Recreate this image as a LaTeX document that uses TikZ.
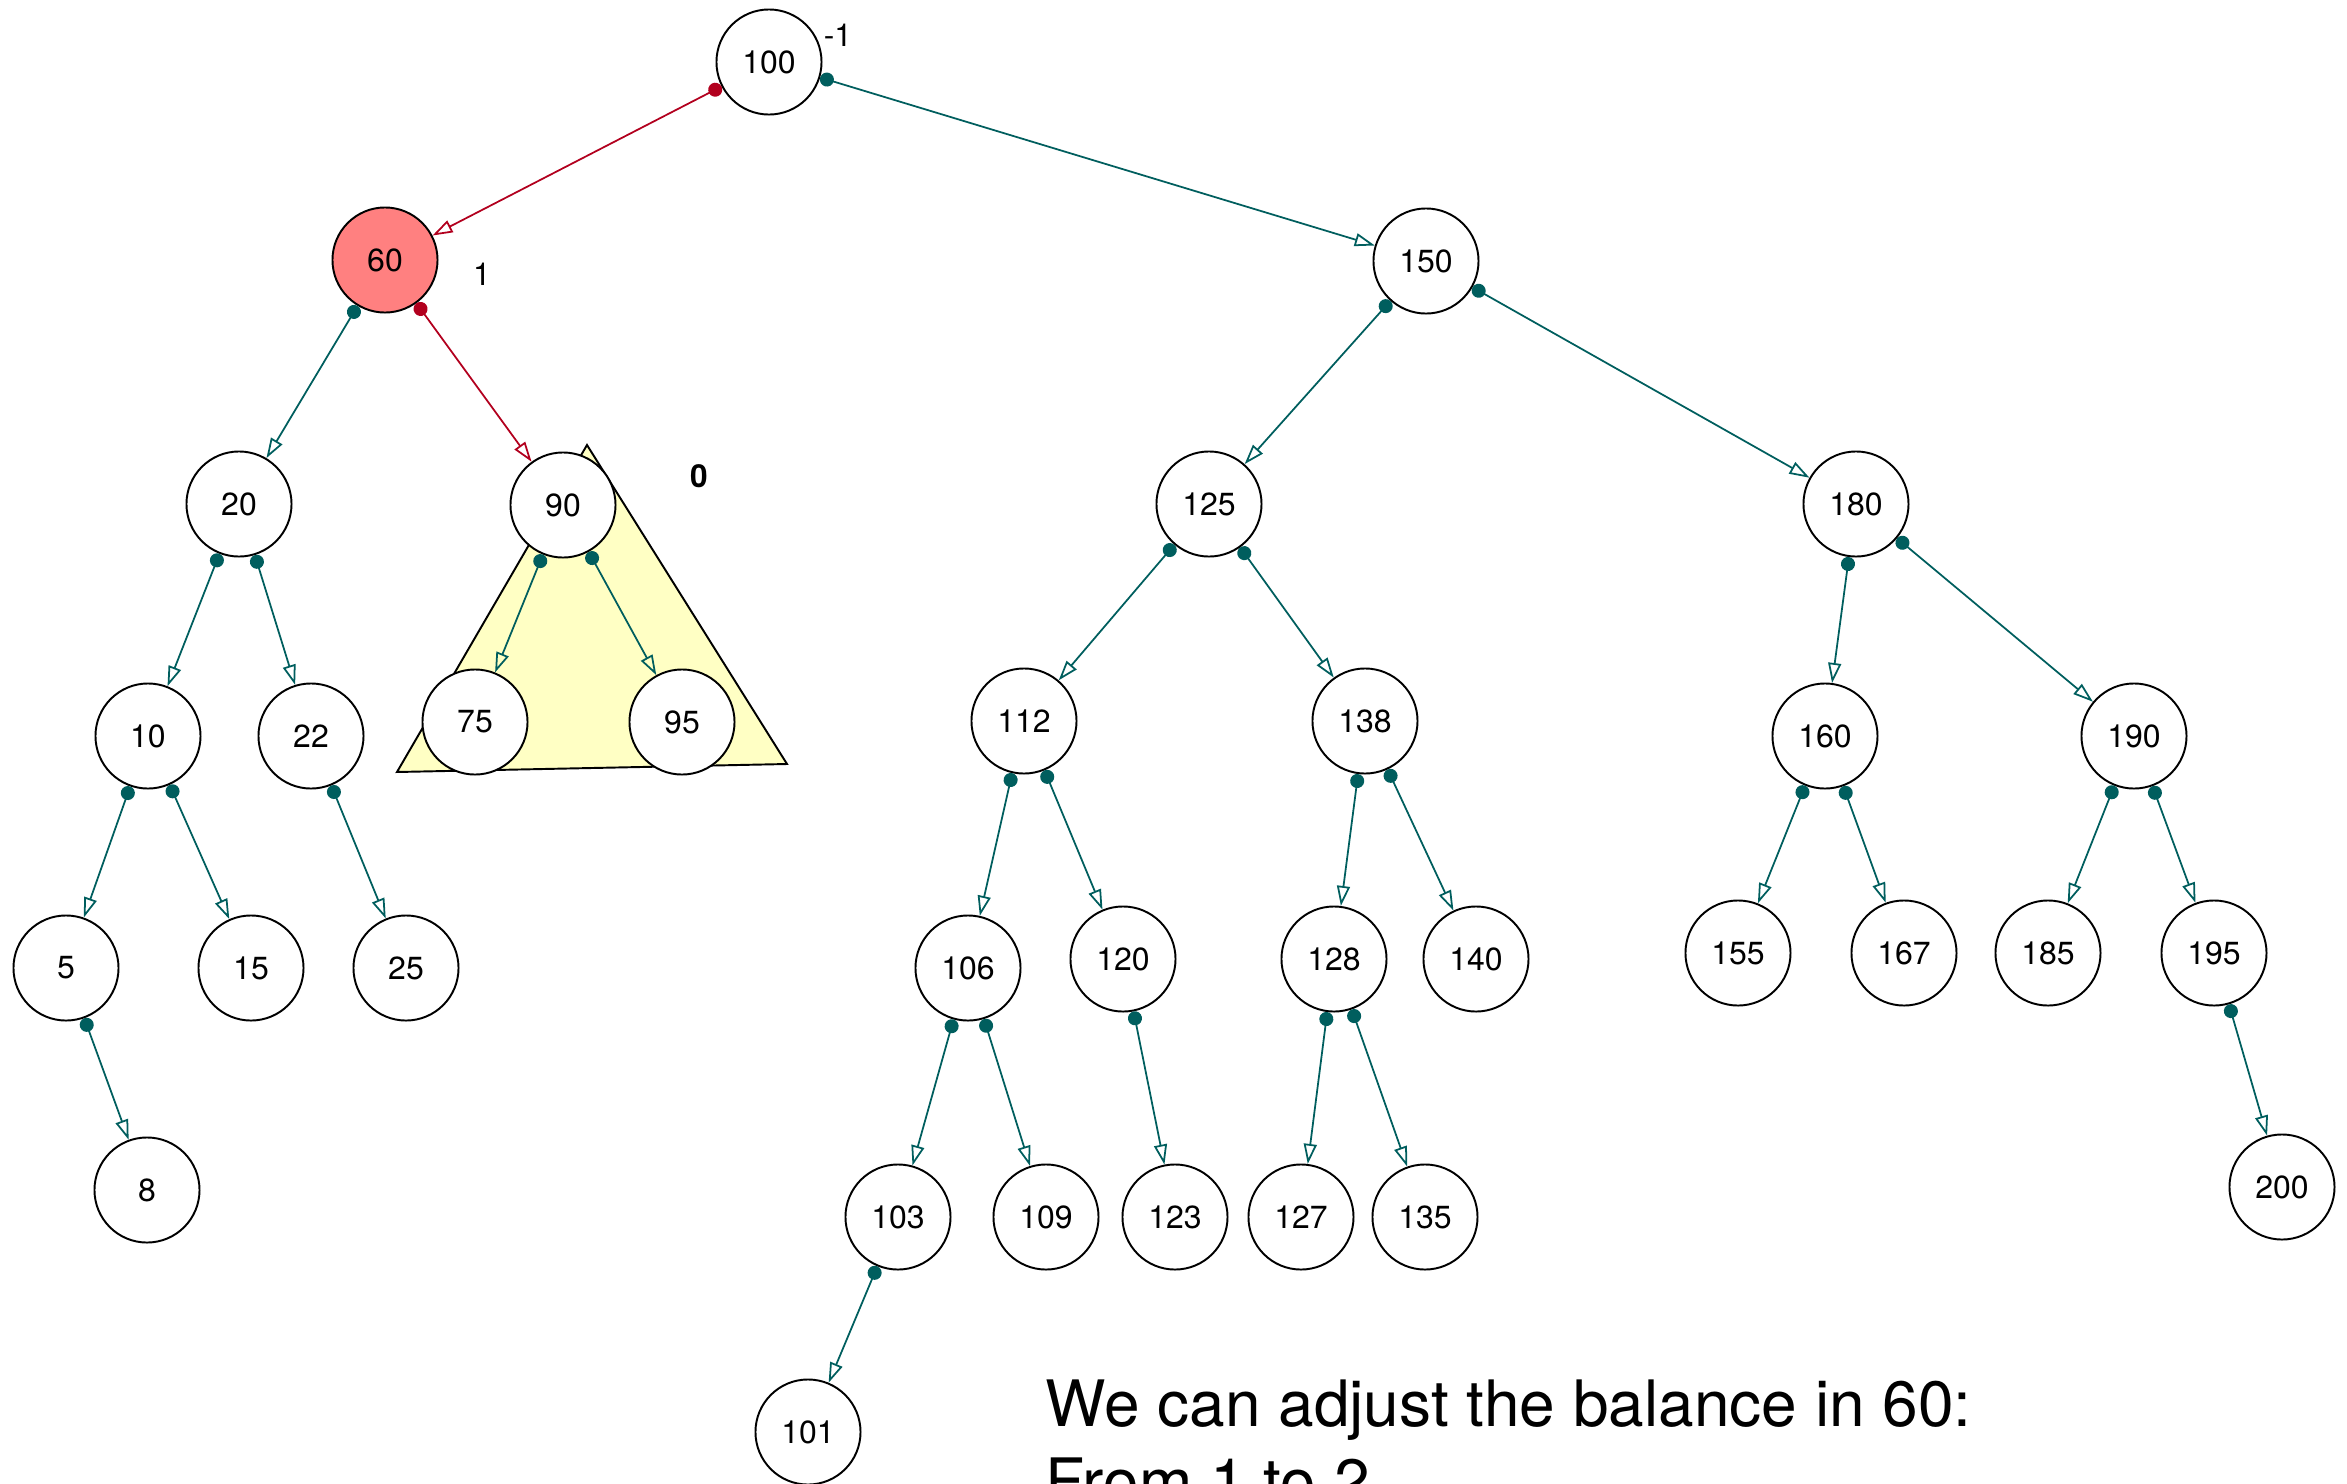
\documentclass[tikz,border=0pt]{standalone}
\usepackage{fontspec}
\setmainfont{TeX Gyre Heros}
\usetikzlibrary{arrows.meta}
\definecolor{linkteal}{RGB}{0,94,94}
\definecolor{linkred}{RGB}{178,0,30}
\definecolor{hotpink}{RGB}{255,128,128}
\definecolor{paleyellow}{RGB}{255,255,196}
\tikzset{
  x=0.01cm, y=-0.01cm,
  key/.style={circle, draw=black, line width=0.55pt, fill=white,
    minimum size=1.05cm, inner sep=0pt,
    font=\fontsize{9.1pt}{11pt}\selectfont},
  hot/.style={key, fill=hotpink},
  link/.style={draw=linkteal, line width=0.5pt,
    {Circle[length=1.4mm, color=linkteal]}-{Triangle[open, length=2mm, width=1.3mm]}},
  redlink/.style={link, draw=linkred,
    {Circle[length=1.4mm, color=linkred]}-{Triangle[open, length=2mm, width=1.3mm]}},
  balance/.style={font=\fontsize{9pt}{11pt}\selectfont},
  note/.style={font=\fontsize{18.2pt}{22pt}\selectfont, anchor=base west, inner sep=0pt},
}
\begin{document}
\begin{tikzpicture}
\useasboundingbox (0,0) rectangle (2347,1484);
\clip (0,0) rectangle (2347,1484);

% subtree of 90
\draw[fill=paleyellow, line width=0.55pt] (587,445) -- (787,764) -- (397,772) -- cycle;

% keys
\node[key] (n100) at (769,62) {100};
\node[hot] (n60) at (385,260) {60};
\node[key] (n150) at (1426,261) {150};
\node[key] (n20) at (239,504) {20};
\node[key] (n90) at (563,505) {90};
\node[key] (n125) at (1209,504) {125};
\node[key] (n180) at (1856,504) {180};
\node[key] (n10) at (148,736) {10};
\node[key] (n22) at (311,736) {22};
\node[key] (n75) at (475,722) {75};
\node[key] (n95) at (682,722) {95};
\node[key] (n112) at (1024,721) {112};
\node[key] (n138) at (1365,721) {138};
\node[key] (n160) at (1825,736) {160};
\node[key] (n190) at (2134,736) {190};
\node[key] (n5) at (66,968) {5};
\node[key] (n15) at (251,968) {15};
\node[key] (n25) at (406,968) {25};
\node[key] (n106) at (968,968) {106};
\node[key] (n120) at (1123,959) {120};
\node[key] (n128) at (1334,959) {128};
\node[key] (n140) at (1476,959) {140};
\node[key] (n155) at (1738,953) {155};
\node[key] (n167) at (1904,953) {167};
\node[key] (n185) at (2048,953) {185};
\node[key] (n195) at (2214,953) {195};
\node[key] (n8) at (147,1190) {8};
\node[key] (n103) at (898,1217) {103};
\node[key] (n109) at (1046,1217) {109};
\node[key] (n123) at (1175,1217) {123};
\node[key] (n127) at (1301,1217) {127};
\node[key] (n135) at (1425,1217) {135};
\node[key] (n200) at (2282,1187) {200};
\node[key] (n101) at (808,1432) {101};

% links
\draw[redlink] (n100) -- (n60);
\draw[link] (n100) -- (n150);
\draw[link] (n60) -- (n20);
\draw[redlink] (n60) -- (n90);
\draw[link] (n150) -- (n125);
\draw[link] (n150) -- (n180);
\draw[link] (n20) -- (n10);
\draw[link] (n20) -- (n22);
\draw[link] (n90) -- (n75);
\draw[link] (n90) -- (n95);
\draw[link] (n125) -- (n112);
\draw[link] (n125) -- (n138);
\draw[link] (n180) -- (n160);
\draw[link] (n180) -- (n190);
\draw[link] (n10) -- (n5);
\draw[link] (n10) -- (n15);
\draw[link] (n22) -- (n25);
\draw[link] (n5) -- (n8);
\draw[link] (n112) -- (n106);
\draw[link] (n112) -- (n120);
\draw[link] (n138) -- (n128);
\draw[link] (n138) -- (n140);
\draw[link] (n160) -- (n155);
\draw[link] (n160) -- (n167);
\draw[link] (n190) -- (n185);
\draw[link] (n190) -- (n195);
\draw[link] (n106) -- (n103);
\draw[link] (n106) -- (n109);
\draw[link] (n120) -- (n123);
\draw[link] (n128) -- (n127);
\draw[link] (n128) -- (n135);
\draw[link] (n195) -- (n200);
\draw[link] (n103) -- (n101);

% balance factors
\node[balance] (b100) at (838,35) {-1};
\node[balance] (b60) at (482,274) {1};
\node[balance, font=\fontsize{9pt}{11pt}\selectfont\bfseries] (b90) at (699,476) {0};

% remark
\node[note] (line1) at (1045,1426) {We can adjust the balance in 60:};
\node[note] (line2) at (1045,1504) {From 1 to 2};
\end{tikzpicture}
\end{document}
